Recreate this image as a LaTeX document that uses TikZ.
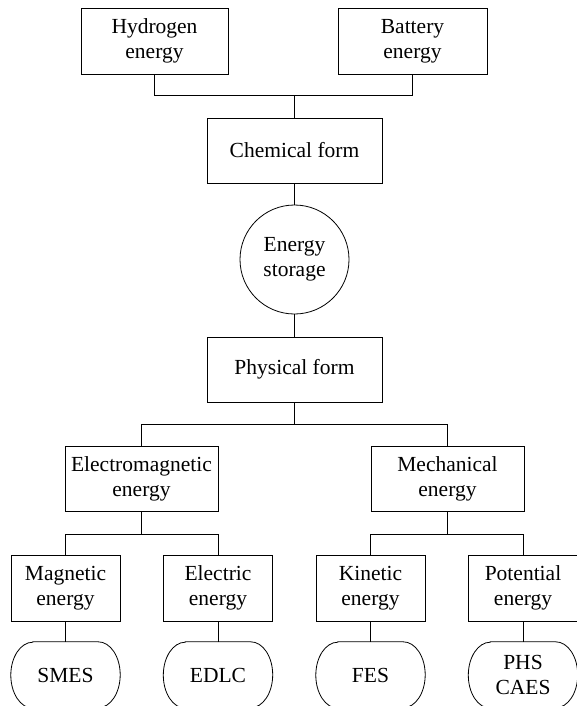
\documentclass[tikz,border=0pt]{standalone}
\usepackage{fontspec}
\setmainfont{Liberation Serif}
\usetikzlibrary{calc}

\tikzset{
  box/.style={draw, line width=0.8pt, minimum width=#1, minimum height=66pt, align=center, inner sep=0pt},
  pill/.style={minimum width=109pt, minimum height=66pt, align=center, inner sep=0pt},
  link/.style={line width=0.8pt},
}

\begin{document}
\begin{tikzpicture}[x=1pt, y=1pt, font=\fontsize{21.5}{25}\selectfont]
	% page frame
	\useasboundingbox (0,0) rectangle (576,-706);
	% chemical branch
	\node[box=147pt] (hyd) at (154.5,-41) {Hydrogen\\energy};
	\node[box=149pt] (bat) at (412.5,-41) {Battery\\energy};
	\node[box=175pt, minimum height=65pt] (chem) at (294.5,-150.5) {Chemical form};
	% centre
	\node[draw, circle, minimum size=109pt, inner sep=0pt, align=center, line width=0.8pt] (store) at (294.5,-259.5) {Energy\\storage};
	% physical branch
	\node[box=175pt, minimum height=65pt] (phys) at (294.5,-369.5) {Physical form};
	\node[box=153pt, minimum height=65pt] (emag) at (141.5,-478.5) {Electromagnetic\\energy};
	\node[box=153pt, minimum height=65pt] (mech) at (447.5,-478.5) {Mechanical\\energy};
	\node[box=109pt] (magn) at (65.5,-588) {Magnetic\\energy};
	\node[box=109pt] (elec) at (218,-588) {Electric\\energy};
	\node[box=109pt] (kin) at (370.5,-588) {Kinetic\\energy};
	\node[box=109pt] (pot) at (523,-588) {Potential\\energy};
	% technologies
	\node[pill] (smes) at (65.5,-675) {SMES};
	\node[pill] (edlc) at (218,-675) {EDLC};
	\node[pill] (fes) at (370.5,-675) {FES};
	\node[pill] (phs) at (523,-675) {PHS\\CAES};
	\foreach \p in {smes,edlc,fes,phs}
		\draw[link] ([xshift=22pt]\p.north west) -- ([xshift=-22pt]\p.north east)
			arc[start angle=90, end angle=-90, x radius=22pt, y radius=33pt]
			-- ([xshift=22pt]\p.south west)
			arc[start angle=270, end angle=90, x radius=22pt, y radius=33pt] -- cycle;
	% tree connectors
	\coordinate (j1) at ($(chem.north)+(0,22)$);
	\draw[link] (hyd.south) |- (j1) -| (bat.south);
	\draw[link] (j1) -- (chem.north);
	\draw[link] (chem.south) -- (store.north);
	\draw[link] (store.south) -- (phys.north);
	\coordinate (j2) at ($(phys.south)+(0,-22)$);
	\draw[link] (emag.north) |- (j2) -| (mech.north);
	\draw[link] (j2) -- (phys.south);
	\coordinate (j3) at ($(emag.south)+(0,-23)$);
	\draw[link] (magn.north) |- (j3) -| (elec.north);
	\draw[link] (j3) -- (emag.south);
	\coordinate (j4) at ($(mech.south)+(0,-23)$);
	\draw[link] (kin.north) |- (j4) -| (pot.north);
	\draw[link] (j4) -- (mech.south);
	\draw[link] (magn.south) -- (smes.north);
	\draw[link] (elec.south) -- (edlc.north);
	\draw[link] (kin.south) -- (fes.north);
	\draw[link] (pot.south) -- (phs.north);
\end{tikzpicture}
\end{document}
